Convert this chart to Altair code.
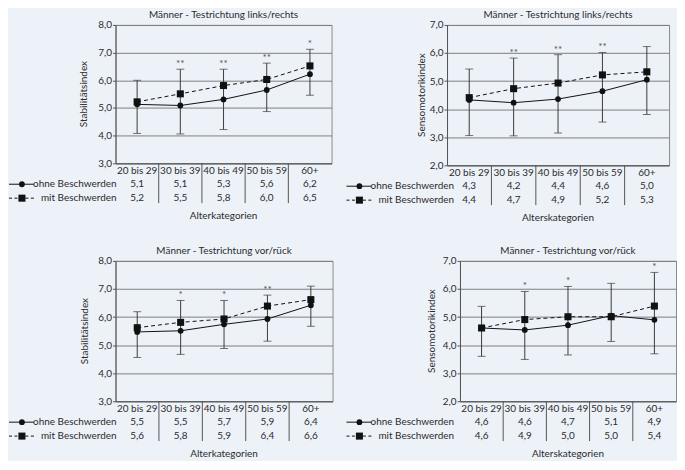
import altair as alt
import pandas as pd

categories = ["20 bis 29", "30 bis 39", "40 bis 49", "50 bis 59", "60+"]

# Panel 1 - Stabilitätsindex, links/rechts
p1_ohne = [5.13, 5.09, 5.31, 5.65, 6.22]
p1_mit = [5.22, 5.51, 5.81, 6.03, 6.52]
p1_lo = [4.08, 4.06, 4.22, 4.87, 5.46]
p1_hi = [6.00, 6.40, 6.40, 6.62, 7.12]
p1_ohne_lbl = ["5,1", "5,1", "5,3", "5,6", "6,2"]
p1_mit_lbl = ["5,2", "5,5", "5,8", "6,0", "6,5"]
p1_stars = ["", "**", "**", "**", "*"]

# Panel 2 - Sensomotorikindex, links/rechts
p2_ohne = [4.33, 4.23, 4.36, 4.64, 5.05]
p2_mit = [4.41, 4.73, 4.93, 5.22, 5.33]
p2_lo = [3.06, 3.05, 3.15, 3.54, 3.81]
p2_hi = [5.43, 5.82, 5.94, 6.02, 6.23]
p2_ohne_lbl = ["4,3", "4,2", "4,4", "4,6", "5,0"]
p2_mit_lbl = ["4,4", "4,7", "4,9", "5,2", "5,3"]
p2_stars = ["", "**", "**", "**", ""]

# Panel 3 - Stabilitätsindex, vor/rück
p3_ohne = [5.47, 5.51, 5.74, 5.93, 6.42]
p3_mit = [5.62, 5.81, 5.93, 6.39, 6.62]
p3_lo = [4.56, 4.67, 4.88, 5.14, 5.67]
p3_hi = [6.19, 6.59, 6.59, 6.78, 7.10]
p3_ohne_lbl = ["5,5", "5,5", "5,7", "5,9", "6,4"]
p3_mit_lbl = ["5,6", "5,8", "5,9", "6,4", "6,6"]
p3_stars = ["", "*", "*", "**", ""]

# Panel 4 - Sensomotorikindex, vor/rück
p4_ohne = [4.61, 4.54, 4.71, 5.05, 4.90]
p4_mit = [4.61, 4.91, 5.01, 5.01, 5.39]
p4_lo = [3.60, 3.49, 3.65, 4.13, 3.69]
p4_hi = [5.38, 5.91, 6.09, 6.20, 6.59]
p4_ohne_lbl = ["4,6", "4,6", "4,7", "5,1", "4,9"]
p4_mit_lbl = ["4,6", "4,9", "5,0", "5,0", "5,4"]
p4_stars = ["", "*", "*", "", "*"]

FONT = "Lato"
TXT = "#2b2b2b"
INK = "#111111"
BAR = "#3a3a3a"


def panel(ohne, mit, lo, hi, ohne_lbl, mit_lbl, stars, ydom, title, ytitle, xtitle,
          w, h, leg_x, ytitle_x):
    df = pd.DataFrame({
        "cat": categories, "ohne": ohne, "mit": mit, "lo": lo, "hi": hi,
        "ohne_lbl": ohne_lbl, "mit_lbl": mit_lbl, "star": stars,
        "sep": [False, True, True, True, True],
    })
    one = pd.DataFrame({"k": [0]})
    xs = alt.Scale(type="band", domain=categories, paddingInner=0, paddingOuter=0)
    xaxis = alt.Axis(labels=False, ticks=False, title=None, domain=True,
                     domainColor="#555555", grid=False)
    X = alt.X("cat:N", scale=xs, sort=categories, axis=xaxis)
    ys = alt.Scale(domain=ydom, nice=False, zero=False)
    ticks = list(range(ydom[0], ydom[1] + 1))
    yaxis = alt.Axis(
        values=ticks, grid=True, gridColor="#7e7e7e", gridWidth=1,
        domainColor="#555555", tickColor="#555555", tickSize=3,
        labelPadding=1, labelFont=FONT, labelFontSize=10, labelColor=TXT,
        labelExpr="replace(format(datum.value, '.1f'), '.', ',')",
        title=None)

    def Y(f):
        return alt.Y(f, scale=ys, axis=yaxis, title=None)

    base = alt.Chart(df)

    err = base.mark_rule(color=BAR, strokeWidth=1).encode(x=X, y=Y("lo:Q"), y2="hi:Q")
    cap_lo = base.mark_tick(color=BAR, size=8, thickness=1).encode(x=X, y=Y("lo:Q"))
    cap_hi = base.mark_tick(color=BAR, size=8, thickness=1).encode(x=X, y=Y("hi:Q"))
    l_ohne = base.mark_line(color=INK, strokeWidth=1).encode(x=X, y=Y("ohne:Q"))
    l_mit = base.mark_line(color=INK, strokeWidth=1, strokeDash=[4, 3]).encode(x=X, y=Y("mit:Q"))
    p_ohne = base.mark_point(shape="circle", filled=True, color=INK, size=34, opacity=1).encode(
        x=X, y=Y("ohne:Q"))
    p_mit = base.mark_point(shape="square", filled=True, color=INK, size=50, opacity=1).encode(
        x=X, y=Y("mit:Q"))
    star = base.mark_text(font=FONT, fontSize=10, color="#555555", baseline="alphabetic",
                          dy=-2).encode(x=X, y=Y("hi:Q"), text="star:N")

    tfont = dict(font=FONT, fontSize=10, color=TXT)
    cat_t = base.mark_text(baseline="middle", **tfont).encode(
        x=X, y=alt.value(h + 7.5), text="cat:N")
    ohne_t = base.mark_text(baseline="middle", **tfont).encode(
        x=X, y=alt.value(h + 21), text="ohne_lbl:N")
    mit_t = base.mark_text(baseline="middle", **tfont).encode(
        x=X, y=alt.value(h + 35), text="mit_lbl:N")
    seps = base.mark_rule(color="#555555", strokeWidth=1).encode(
        x=alt.X("cat:N", scale=xs, sort=categories, axis=xaxis, bandPosition=0),
        y=alt.value(h), y2=alt.value(h + 40)).transform_filter("datum.sep")

    o = alt.Chart(one)
    leg = [
        o.mark_rule(color=INK, strokeWidth=1).encode(
            x=alt.value(leg_x), x2=alt.value(leg_x + 25), y=alt.value(h + 21)),
        o.mark_point(shape="circle", filled=True, color=INK, size=34, opacity=1).encode(
            x=alt.value(leg_x + 13), y=alt.value(h + 21)),
        o.mark_rule(color=INK, strokeWidth=1, strokeDash=[3, 2.5]).encode(
            x=alt.value(leg_x), x2=alt.value(leg_x + 25), y=alt.value(h + 35)),
        o.mark_point(shape="square", filled=True, color=INK, size=50, opacity=1).encode(
            x=alt.value(leg_x + 13), y=alt.value(h + 35)),
        o.mark_text(align="right", baseline="middle", **tfont).encode(
            x=alt.value(leg_x + 108), y=alt.value(h + 21), text=alt.value("ohne Beschwerden")),
        o.mark_text(align="right", baseline="middle", **tfont).encode(
            x=alt.value(leg_x + 108), y=alt.value(h + 35), text=alt.value("mit Beschwerden")),
        o.mark_text(align="center", baseline="middle", **tfont).encode(
            x=alt.value(w / 2), y=alt.value(-10), text=alt.value(title)),
        o.mark_text(align="center", baseline="middle", angle=270, **tfont).encode(
            x=alt.value(ytitle_x), y=alt.value(h / 2), text=alt.value(ytitle)),
        o.mark_text(align="center", baseline="middle", **tfont).encode(
            x=alt.value(w / 2), y=alt.value(h + 53), text=alt.value(xtitle)),
    ]

    return alt.layer(err, cap_lo, cap_hi, l_ohne, l_mit, p_ohne, p_mit, star,
                     cat_t, ohne_t, mit_t, seps, *leg).properties(width=w, height=h)


c1 = panel(p1_ohne, p1_mit, p1_lo, p1_hi, p1_ohne_lbl, p1_mit_lbl, p1_stars, [3, 8],
           "Männer - Testrichtung links/rechts", "Stabilitätsindex", "Alterkategorien",
           217, 139, -107, -32)
c2 = panel(p2_ohne, p2_mit, p2_lo, p2_hi, p2_ohne_lbl, p2_mit_lbl, p2_stars, [2, 7],
           "Männer - Testrichtung links/rechts", "Sensomotorikindex", "Alterskategorien",
           223, 141, -101, -25)
c3 = panel(p3_ohne, p3_mit, p3_lo, p3_hi, p3_ohne_lbl, p3_mit_lbl, p3_stars, [3, 8],
           "Männer - Testrichtung vor/rück", "Stabilitätsindex", "Alterkategorien",
           218, 141, -107, -31)
c4 = panel(p4_ohne, p4_mit, p4_lo, p4_hi, p4_ohne_lbl, p4_mit_lbl, p4_stars, [2, 7],
           "Männer - Testrichtung vor/rück", "Sensomotorikindex", "Alterskategorien",
           217, 141, -114, -28)

row1 = alt.hconcat(c1, c2, spacing=116, bounds="flush")
row2 = alt.hconcat(c3, c4, spacing=128, bounds="flush")
chart = alt.vconcat(row1, row2, spacing=21).properties(
    padding={"left": 0, "top": 0, "right": 0, "bottom": 0},
    background="#edf2f9",
).configure_view(stroke="#8a8a8a", strokeWidth=1)

chart.save("out.html", embed_options={"renderer": "svg", "actions": False})
